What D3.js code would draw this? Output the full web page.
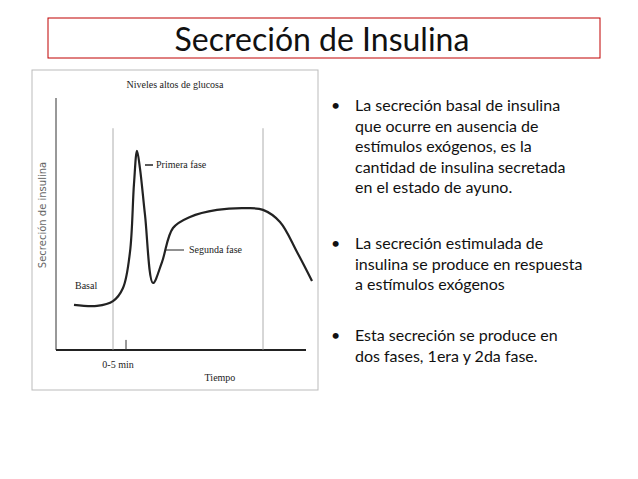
<!DOCTYPE html>
<html><head><meta charset="utf-8">
<script src="https://cdn.jsdelivr.net/npm/d3@7"></script>
<style>body{margin:0;background:#fff}</style>
</head><body>
<svg id="c" width="638" height="479"></svg>
<script>
// curve: time (0-100) vs secretion (0-100)
const curveT = [7.2, 16.4, 22.8, 26.8, 29.6, 31.2, 32.4, 33.6, 35.6, 38.8, 42.4, 46.8, 53.6, 64.4, 76.4, 82.8, 89.6, 96.4, 102.4]
const curveS = [17.9, 17.5, 19.4, 24.6, 38.9, 66, 79, 72, 53.6, 26.6, 34.9, 48.4, 52.8, 55.6, 56.3, 55.6, 50.8, 38.9, 27.4]
const markerT = [22.8, 82.8]
const bullets = [
  ["La secreción basal de insulina", "que ocurre en ausencia de", "estímulos exógenos, es la", "cantidad de insulina secretada", "en el estado de ayuno."],
  ["La secreción estimulada de", "insulina se produce en respuesta", "a estímulos exógenos"],
  ["Esta secreción se produce en", "dos fases, 1era y 2da fase."]
]

const svg = d3.select("#c")
const serif = "Liberation Serif, DejaVu Serif, serif"
const sans = "Lato, Open Sans, sans-serif"

// title box
svg.append("rect").attr("x", 48).attr("y", 18).attr("width", 552).attr("height", 40)
  .attr("fill", "none").attr("stroke", "#c00000").attr("stroke-width", 1)
svg.append("text").attr("x", 322).attr("y", 51).attr("text-anchor", "middle")
  .attr("font-family", sans).attr("font-size", 32).attr("fill", "#111").text("Secreción de Insulina")

// image frame
svg.append("rect").attr("x", 32).attr("y", 70).attr("width", 286).attr("height", 320)
  .attr("fill", "none").attr("stroke", "#bbb").attr("stroke-width", 1)

const x = d3.scaleLinear().domain([0, 100]).range([56, 306])
const y = d3.scaleLinear().domain([0, 100]).range([350, 98])

// axes
svg.append("line").attr("x1", x(0)).attr("x2", x(0)).attr("y1", y(100)).attr("y2", y(0))
  .attr("stroke", "#333").attr("stroke-width", 1)
svg.append("line").attr("x1", x(0)).attr("x2", x(100)).attr("y1", y(0)).attr("y2", y(0))
  .attr("stroke", "#222").attr("stroke-width", 2)

// vertical markers
svg.selectAll("line.mark").data(markerT).enter().append("line").attr("class", "mark")
  .attr("x1", d => x(d)).attr("x2", d => x(d)).attr("y1", y(88)).attr("y2", y(0))
  .attr("stroke", "#999").attr("stroke-width", 0.8)
svg.append("line").attr("x1", x(28)).attr("x2", x(28)).attr("y1", y(4)).attr("y2", y(0))
  .attr("stroke", "#333").attr("stroke-width", 1)

// curve
const pts = curveT.map((t, i) => [t, curveS[i]])
svg.append("path").datum(pts)
  .attr("d", d3.line().x(d => x(d[0])).y(d => y(d[1])).curve(d3.curveCatmullRom.alpha(0.5)))
  .attr("fill", "none").attr("stroke", "#222").attr("stroke-width", 2.2)

// chart labels
const lab = (tx, ty, s, size, anchor) => svg.append("text").attr("x", tx).attr("y", ty)
  .attr("text-anchor", anchor || "start").attr("font-family", serif).attr("font-size", size || 10)
  .attr("fill", "#222").text(s)
lab(175, 88, "Niveles altos de glucosa", 10, "middle")
lab(156, 168, "Primera fase")
lab(189, 253, "Segunda fase")
lab(75, 289, "Basal")
lab(118, 368, "0-5 min", 10, "middle")
lab(220, 381, "Tiempo", 10, "middle")
svg.append("line").attr("x1", 145).attr("x2", 153).attr("y1", 165).attr("y2", 165).attr("stroke", "#222").attr("stroke-width", 1.5)
svg.append("line").attr("x1", 166).attr("x2", 184).attr("y1", 250).attr("y2", 250).attr("stroke", "#222").attr("stroke-width", 1)
svg.append("text").attr("transform", "translate(46,215) rotate(-90)").attr("text-anchor", "middle")
  .attr("font-family", "DejaVu Sans, sans-serif").attr("font-size", 10).attr("fill", "#666")
  .text("Secreción de insulina")

// bullets
const starts = [111, 249, 341]
bullets.forEach((lines, i) => {
  svg.append("text").attr("x", 331).attr("y", starts[i]).attr("font-family", sans)
    .attr("font-size", 16).attr("fill", "#111").text("•")
  lines.forEach((l, j) => svg.append("text").attr("x", 355).attr("y", starts[i] + j * 20.5)
    .attr("font-family", sans).attr("font-size", 16).attr("fill", "#111").text(l))
})
</script>
</body></html>
